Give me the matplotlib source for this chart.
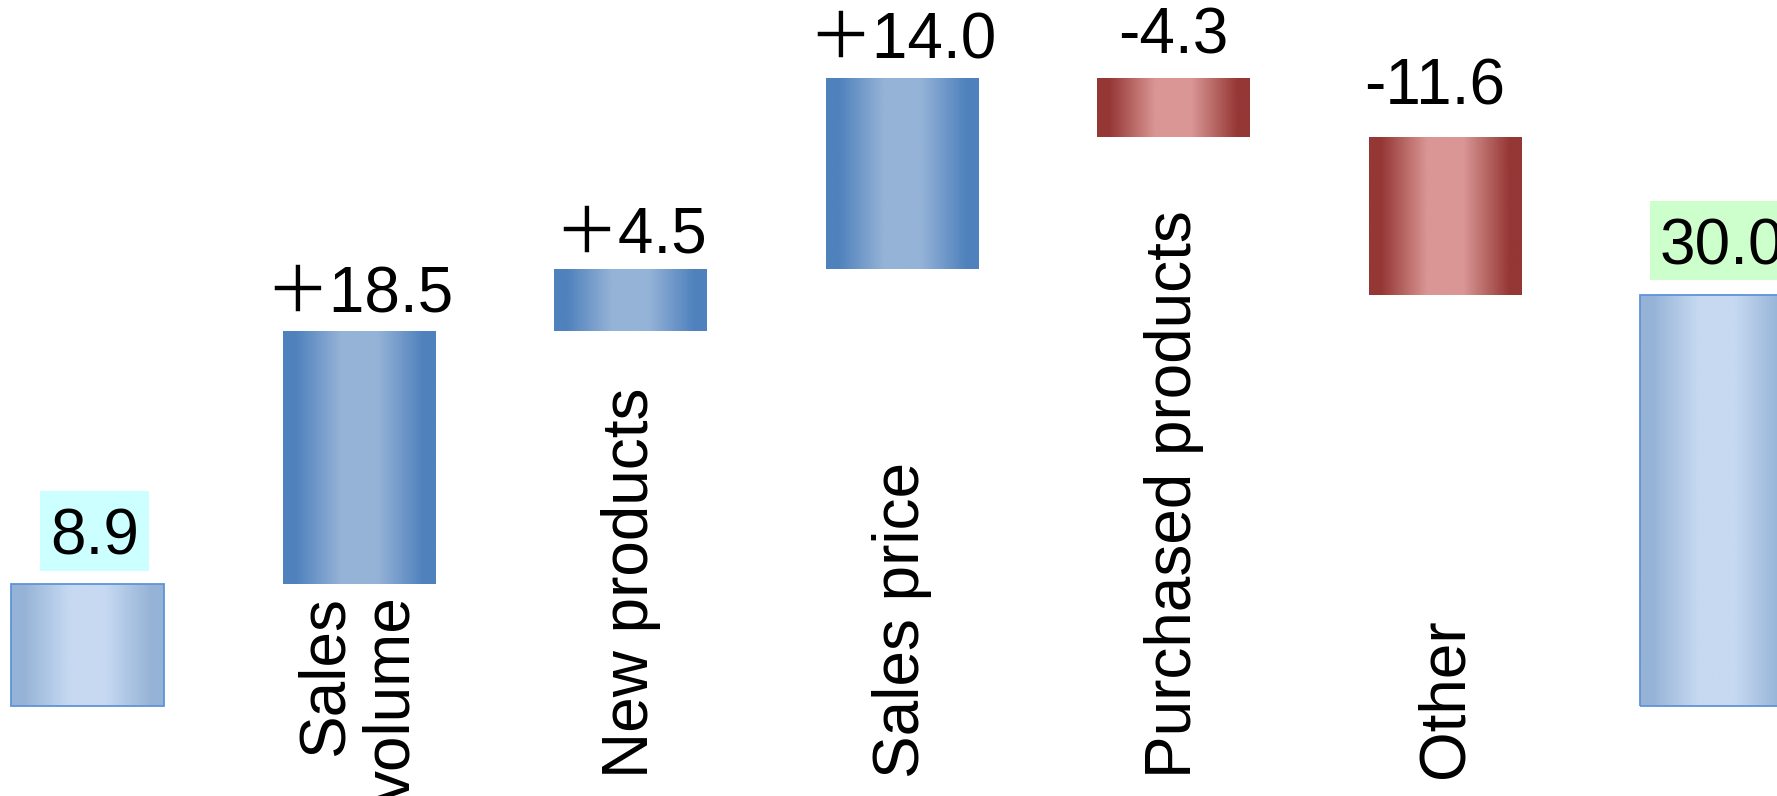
import numpy as np
import matplotlib
matplotlib.use("Agg")
import matplotlib.pyplot as plt
from matplotlib.colors import LinearSegmentedColormap

# --- data -------------------------------------------------------------
categories = ["", "Sales\nvolume", "New products", "Sales price",
              "Purchased products", "Other", ""]
values = [8.9, 18.5, 4.5, 14.0, -4.3, -11.6, 30.0]
kinds = ["total", "delta", "delta", "delta", "delta", "delta", "total"]

# --- styling ------------------------------------------------------------
FONT = ["Liberation Sans", "Noto Sans CJK JP", "DejaVu Sans"]
FS = 46
BAR_W = 0.56
STOPS = [0.0, 0.08, 0.38, 0.62, 0.92, 1.0]
SHADES = {
    "up": ("#4F81BD", "#95B3D7"),
    "down": ("#953735", "#D99694"),
    "total": ("#95B3D7", "#C6D9F1"),
}
TOTAL_EDGE = "#5F93D8"
TOTAL_BOX = ["#CCFFFF", None, None, None, None, None, "#CCFFCC"]
# gap (px) between label baseline and bar edge, and small horizontal nudges (px)
LABEL_GAP = [29, 19, 17, 20, 24, 32, 31]
LABEL_DX = [7, 0, 0, 0, 0, -10, 5]
BOX_LIFT = 7  # px the highlight box sits above the text's own bbox


def shade_map(edge, mid):
    cols = [edge, edge, mid, mid, edge, edge]
    return LinearSegmentedColormap.from_list("shade", list(zip(STOPS, cols)))


fig = plt.figure(figsize=(17.77, 7.96), dpi=100)
ax = fig.add_axes([0, 0, 1, 1])
ax.axis("off")

grad = np.linspace(0, 1, 256).reshape(1, -1)
running = 0.0
px2pt = 72.0 / fig.dpi

for i, (name, v, kind) in enumerate(zip(categories, values, kinds)):
    if kind == "total":
        bottom, height = 0.0, v
        running = v
        edge, mid = SHADES["total"]
        label = f"{v:.1f}"
        anchor = v
    else:
        bottom, height = running, v
        running += v
        edge, mid = SHADES["up" if v > 0 else "down"]
        label = f"＋{v:.1f}" if v > 0 else f"-{abs(v):.1f}"
        anchor = bottom + v if v > 0 else bottom

    bar = ax.bar(i, height, bottom=bottom, width=BAR_W,
                 facecolor="none",
                 edgecolor=TOTAL_EDGE if kind == "total" else "none",
                 linewidth=1.3, zorder=3)[0]
    lo, hi = sorted([bottom, bottom + height])
    im = ax.imshow(grad, cmap=shade_map(edge, mid),
                   extent=(i - BAR_W / 2, i + BAR_W / 2, lo, hi),
                   aspect="auto", interpolation="bilinear", zorder=2)
    im.set_clip_path(bar)

    offset = (LABEL_DX[i] * px2pt, LABEL_GAP[i] * px2pt)
    if TOTAL_BOX[i]:
        # highlight box sized from an invisible copy of the label
        ax.annotate(label, xy=(i, anchor),
                    xytext=(offset[0], offset[1] + BOX_LIFT * px2pt),
                    textcoords="offset points", ha="center", va="baseline",
                    fontsize=FS, family=FONT, color="none", zorder=3.5,
                    bbox=dict(boxstyle="square,pad=0.15",
                              fc=TOTAL_BOX[i], ec="none"))
    ax.annotate(label, xy=(i, anchor), xytext=offset,
                textcoords="offset points", ha="center", va="baseline",
                fontsize=FS, family=FONT, zorder=4)

    if name:
        if "\n" in name:
            ax.text(i, 8.02, name, rotation=90, ha="center", va="top",
                    multialignment="right", linespacing=1.15,
                    fontsize=FS, family=FONT)
        else:
            ax.text(i, -5.3, name, rotation=90, ha="center", va="bottom",
                    fontsize=FS, family=FONT)

ax.set_xlim(-0.3223, 6.2228)
ax.set_ylim(-6.603, 51.60)

fig.savefig("out.png", dpi=100, facecolor="white")
